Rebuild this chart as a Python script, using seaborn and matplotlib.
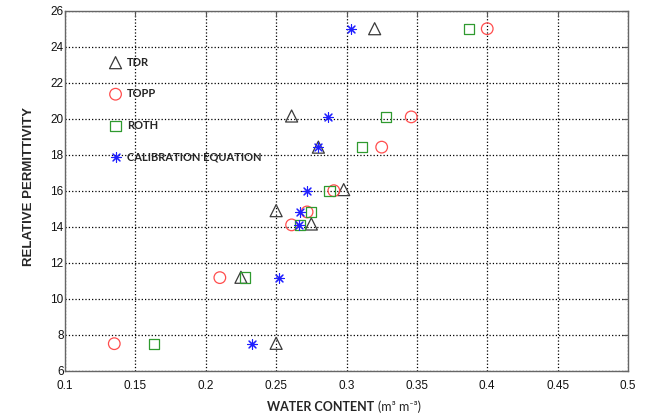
import matplotlib
matplotlib.use("Agg")
import matplotlib.pyplot as plt
import seaborn as sns
import pandas as pd

# relative permittivity levels (shared by all methods)
permittivity = [7.5, 11.17, 14.1, 14.82, 16.0, 18.42, 20.1, 25.0]
tdr_perm = [7.52, 11.19, 14.15, 14.89, 16.06, 18.42, 20.15, 25.0]

# water content estimated by each method (m3 m-3)
tdr = [0.250, 0.225, 0.275, 0.250, 0.298, 0.280, 0.261, 0.320]
topp = [0.135, 0.210, 0.261, 0.272, 0.291, 0.325, 0.346, 0.400]
roth = [0.163, 0.228, 0.267, 0.275, 0.288, 0.311, 0.328, 0.387]
calib = [0.233, 0.252, 0.266, 0.267, 0.272, 0.280, 0.287, 0.303]

methods = ["TDR", "TOPP", "ROTH", "CALIBRATION EQUATION"]

df = pd.concat([
    pd.DataFrame({"wc": tdr, "perm": tdr_perm, "method": "TDR"}),
    pd.DataFrame({"wc": topp, "perm": permittivity, "method": "TOPP"}),
    pd.DataFrame({"wc": roth, "perm": permittivity, "method": "ROTH"}),
    pd.DataFrame({"wc": calib, "perm": permittivity, "method": "CALIBRATION EQUATION"}),
])

sns.set_style("white")
plt.rcParams["font.family"] = ["Liberation Sans Narrow", "Liberation Sans", "DejaVu Sans"]

# marker style per method (asterisk can't be hollow, so it keeps its face colour)
styles = {
    "TDR": dict(marker="^", color="#3a3a3a", s=75, fc="none", lw=0.9),
    "TOPP": dict(marker="o", color="#ff4d4d", s=70, fc="none", lw=0.9),
    "ROTH": dict(marker="s", color="#2f9a2f", s=55, fc="none", lw=0.9),
    "CALIBRATION EQUATION": dict(marker=(8, 2, 0), color="#1f1fff", s=50, fc="#1f1fff", lw=0.8),
}

fig = plt.figure(figsize=(6.47, 4.18), dpi=100)
ax = fig.add_axes([0.1005, 0.1132, 0.8701, 0.8612])

for m in methods:
    st = styles[m]
    sub = df[df["method"] == m]
    sns.scatterplot(data=sub, x="wc", y="perm", ax=ax, marker=st["marker"],
                    s=st["s"], color=st["color"], facecolor=st["fc"],
                    edgecolor=st["color"], linewidth=st["lw"], label=m,
                    legend=False, zorder=3)

ax.set_xlim(0.1, 0.5)
ax.set_ylim(6, 26)
ax.set_xticks([0.1, 0.15, 0.2, 0.25, 0.3, 0.35, 0.4, 0.45, 0.5])
ax.set_xticklabels(["0.1", "0.15", "0.2", "0.25", "0.3", "0.35", "0.4", "0.45", "0.5"])
ax.set_yticks(range(6, 27, 2))
ax.tick_params(direction="in", top=True, right=True, length=4, width=0.8,
               labelsize=8.5, colors="#555555", labelcolor="#111111")
ax.tick_params(axis="x", pad=7)
ax.tick_params(axis="y", pad=1)

ax.grid(True, linestyle=":", color="black", linewidth=0.9)
for sp in ax.spines.values():
    sp.set_color("#666666")
    sp.set_linewidth(1.0)

ax.set_xlabel("")
ax.set_ylabel("")
fig.text(0.578, 0.026, "WATER CONTENT", family="Lato", weight="bold",
         fontsize=9, ha="right", va="center")
fig.text(0.584, 0.026, "(m³ m⁻³)", family=["Lato", "DejaVu Sans"],
         fontsize=9, ha="left", va="center")
fig.text(0.045, 0.553, "RELATIVE PERMITTIVITY", family="Liberation Sans", weight="bold",
         fontsize=9.5, rotation=90, ha="center", va="center")

leg = ax.legend(loc="upper left", bbox_to_anchor=(0.07, 0.888), frameon=False,
                prop=dict(family="Lato", weight="bold", size=8),
                labelspacing=1.85, handletextpad=0.5, handlelength=1.0,
                borderpad=0)

plt.savefig("out.png", dpi=100)
